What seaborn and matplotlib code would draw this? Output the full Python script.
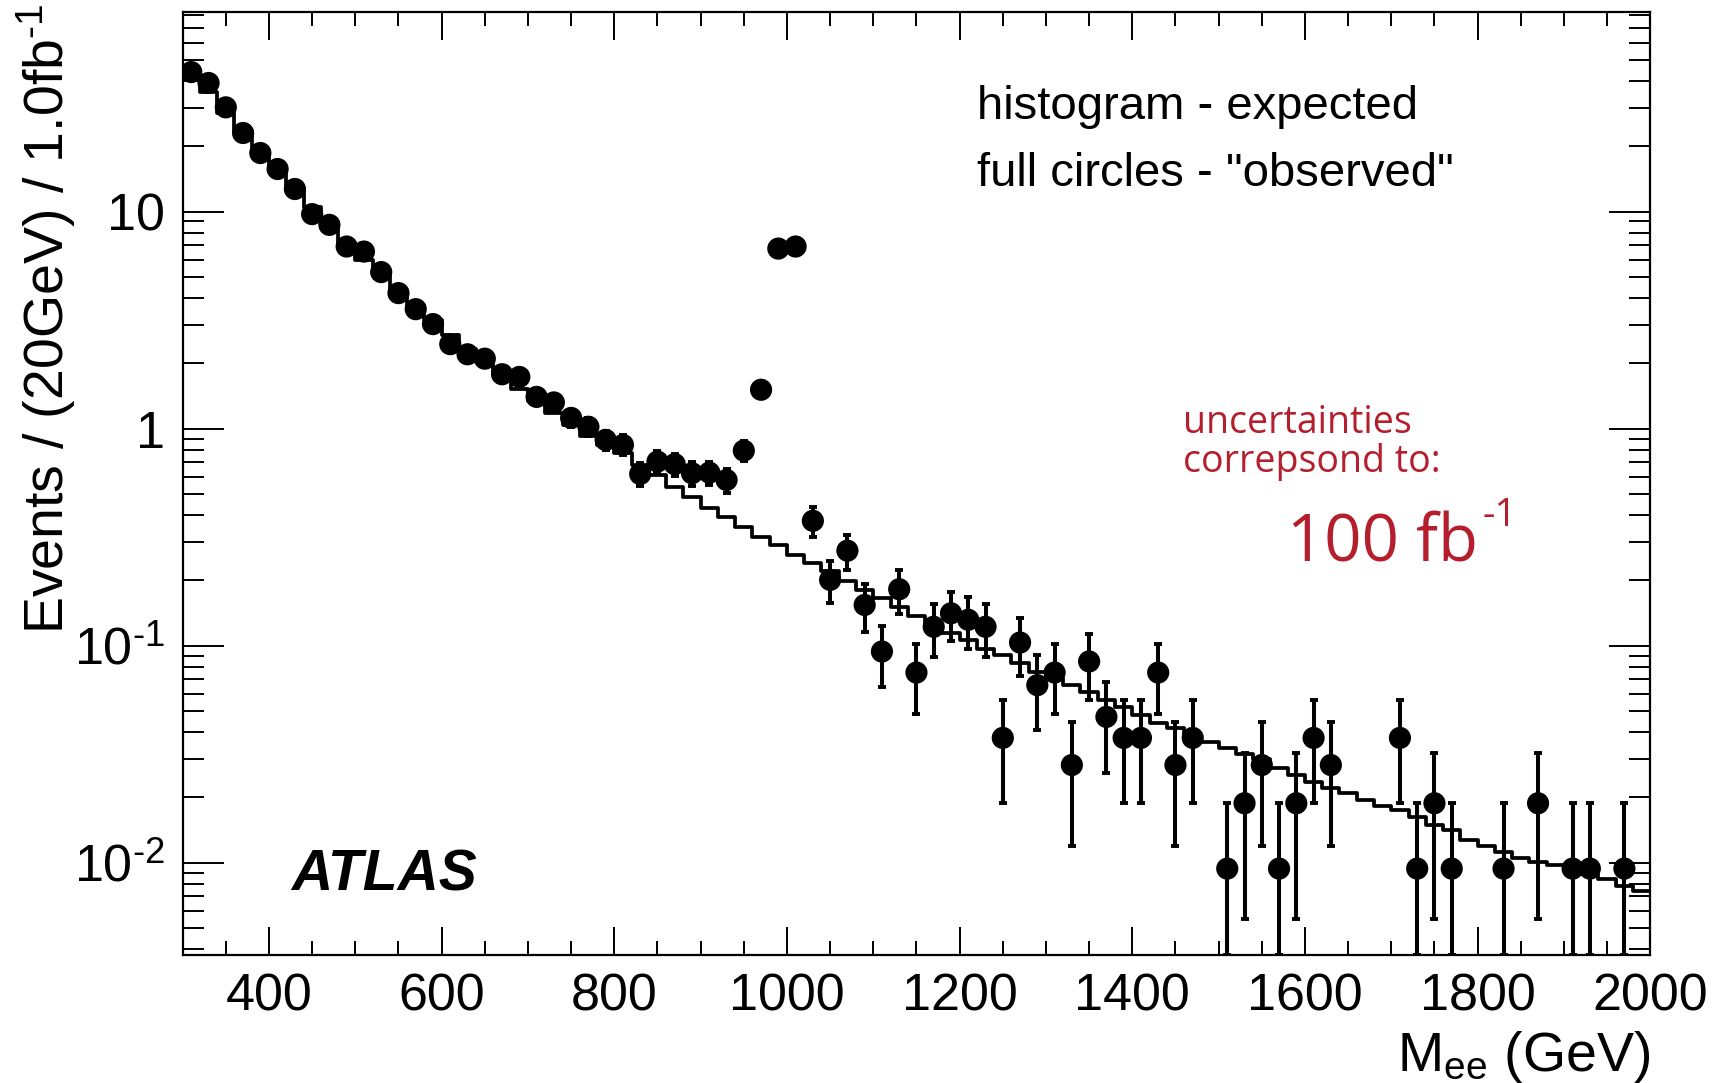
import numpy as np
import pandas as pd
import matplotlib
matplotlib.use("Agg")
import matplotlib.pyplot as plt
import seaborn as sns
from matplotlib.ticker import FixedLocator, MultipleLocator, LogLocator, NullFormatter, FixedFormatter

# ---------------- data ----------------
# 20 GeV bins from 300 to 2000 GeV
bin_edges = [float(e) for e in range(300, 2001, 20)]
bin_centers = [e + 10 for e in bin_edges[:-1]]

# expected Drell-Yan spectrum, events / 20 GeV / 1 fb^-1
expected = [
    42.0, 35.5, 28.5, 23.5, 19.2, 15.6, 12.8, 10.5, 8.7, 7.1,
    6.0, 5.1, 4.35, 3.70, 3.15, 2.70, 2.33, 2.02, 1.76, 1.53,
    1.34, 1.18, 1.04, 0.92, 0.84, 0.77, 0.68, 0.61, 0.540, 0.486,
    0.433, 0.391, 0.351, 0.318, 0.290, 0.263, 0.241, 0.221, 0.199, 0.181,
    0.165, 0.151, 0.137, 0.126, 0.114, 0.106, 0.097, 0.0906, 0.0830, 0.0759,
    0.0710, 0.0659, 0.0610, 0.0562, 0.0524, 0.0480, 0.0442, 0.0416, 0.0385, 0.0359,
    0.0337, 0.0317, 0.0300, 0.0272, 0.0254, 0.0236, 0.0220, 0.0209, 0.0194, 0.0183,
    0.0175, 0.0163, 0.0149, 0.0142, 0.0127, 0.0119, 0.0112, 0.0105, 0.0101, 0.0098,
    0.0093, 0.0089, 0.0084, 0.0078, 0.0074,
]

# pseudo-data ("observed"), bins with zero events are not drawn
obs_mass = [
    310, 330, 350, 370, 390, 410, 430, 450, 470, 490,
    510, 530, 550, 570, 590, 610, 630, 650, 670, 690,
    710, 730, 750, 770, 790, 810, 830, 850, 870, 890,
    910, 930, 950, 970, 990, 1010, 1030, 1050, 1070, 1090,
    1110, 1130, 1150, 1170, 1190, 1210, 1230, 1250, 1270, 1290,
    1310, 1330, 1350, 1370, 1390, 1410, 1430, 1450, 1470, 1510,
    1530, 1550, 1570, 1590, 1610, 1630, 1710, 1730, 1750, 1770,
    1830, 1870, 1910, 1930, 1970,
]
obs_value = [
    43.9, 39.1, 30.2, 23.0, 18.6, 15.7, 12.7, 9.73, 8.68, 6.90,
    6.54, 5.26, 4.21, 3.55, 3.03, 2.45, 2.20, 2.10, 1.78, 1.73,
    1.40, 1.32, 1.12, 1.02, 0.887, 0.841, 0.618, 0.705, 0.686, 0.623,
    0.627, 0.580, 0.792, 1.51, 6.75, 6.90, 0.376, 0.201, 0.274, 0.154,
    0.0940, 0.182, 0.0752, 0.1222, 0.141, 0.1316, 0.1222, 0.0376, 0.1034, 0.0658,
    0.0752, 0.0282, 0.0846, 0.0470, 0.0376, 0.0376, 0.0752, 0.0282, 0.0376, 0.0094,
    0.0188, 0.0282, 0.0094, 0.0188, 0.0376, 0.0282, 0.0376, 0.0094, 0.0188, 0.0094,
    0.0094, 0.0188, 0.0094, 0.0094, 0.0094,
]
# weight of a single event (100 fb^-1 sample scaled to 1 fb^-1)
event_weight = 0.0094

x_ticks = [400, 600, 800, 1000, 1200, 1400, 1600, 1800, 2000]
y_ticks = [0.01, 0.1, 1, 10]
y_tick_labels = [r"10$^{\text{-2}}$", r"10$^{\text{-1}}$", "1", "10"]

X_MIN, X_MAX = 300, 2000
Y_MIN, Y_MAX = 0.00376, 83.0

# ---------------- style ----------------
sns.set_theme(style="ticks")
plt.rcParams["font.family"] = ["Liberation Sans", "DejaVu Sans"]
plt.rcParams["mathtext.fontset"] = "custom"
plt.rcParams["mathtext.rm"] = "Liberation Sans"
plt.rcParams["mathtext.it"] = "Liberation Sans:italic"
plt.rcParams["mathtext.bf"] = "Liberation Sans:bold"
plt.rcParams["mathtext.default"] = "regular"
for key in ["axes.edgecolor", "xtick.color", "ytick.color", "text.color",
            "axes.labelcolor", "xtick.labelcolor", "ytick.labelcolor"]:
    plt.rcParams[key] = "black"

fig = plt.figure(figsize=(17.23, 10.83), dpi=100)
ax = fig.add_axes([0.1060, 0.1182, 0.9578 - 0.1060, 0.9889 - 0.1182])
fig.patch.set_facecolor("white")
ax.set_facecolor("white")

# expected spectrum as a step histogram
hist_df = pd.DataFrame({"mass": bin_centers, "expected": expected})
sns.histplot(data=hist_df, x="mass", weights="expected", bins=bin_edges,
             element="step", fill=False, color="black", linewidth=2.7, ax=ax)

# observed points with Poisson uncertainties
obs = pd.DataFrame({"mass": obs_mass, "value": obs_value})
obs["err"] = np.sqrt(obs["value"] * event_weight)
lower = np.minimum(obs["err"], obs["value"] - Y_MIN * 1.0001)
upper = obs["err"]
ax.errorbar(obs["mass"], obs["value"], yerr=[lower, upper], fmt="none",
            ecolor="black", elinewidth=2.9, capsize=2.9, capthick=2.8, zorder=3)
sns.scatterplot(data=obs, x="mass", y="value", color="black", s=255,
                edgecolor="none", linewidth=0, zorder=4, ax=ax, legend=False)

ax.set_yscale("log")
ax.set_xlim(X_MIN, X_MAX)
ax.set_ylim(Y_MIN, Y_MAX)

# axes, ticks
for sp in ax.spines.values():
    sp.set_visible(True)
    sp.set_linewidth(1.6)
    sp.set_color("black")

ax.xaxis.set_major_locator(FixedLocator(x_ticks))
ax.xaxis.set_minor_locator(MultipleLocator(50))
ax.yaxis.set_major_locator(FixedLocator(y_ticks))
ax.yaxis.set_major_formatter(FixedFormatter(y_tick_labels))
ax.yaxis.set_minor_locator(LogLocator(base=10, subs=np.arange(2, 10), numticks=50))
ax.yaxis.set_minor_formatter(NullFormatter())

ax.tick_params(which="both", direction="in", top=True, right=True,
               bottom=True, left=True, color="black", width=1.4)
ax.tick_params(axis="x", which="major", length=20, labelsize=37.5, pad=12.5)
ax.tick_params(axis="x", which="minor", length=10)
ax.tick_params(axis="y", which="major", length=29.5, labelsize=37.5, pad=12.5)
ax.tick_params(axis="y", which="minor", length=15)

# axis titles, ROOT-like placement at the axis ends
ax.set_xlabel(r"M$_{\text{ee}}$ (GeV)", fontsize=40)
ax.xaxis.set_label_coords(1.0, -0.1230)
ax.xaxis.label.set_horizontalalignment("right")
ax.xaxis.label.set_verticalalignment("baseline")

ax.set_ylabel(r"Events / (20GeV) / 1.0fb$^{\text{-1}}$", fontsize=40)
ax.yaxis.set_label_coords(-0.0931, 1.009)
ax.yaxis.label.set_rotation_mode("default")
ax.yaxis.label.set_horizontalalignment("center")
ax.yaxis.label.set_verticalalignment("top")

# annotations
fig.text(0.5670, 0.8901, "histogram - expected", fontsize=34,
         ha="left", va="baseline", color="black")
fig.text(0.5670, 0.8283, 'full circles - "observed"', fontsize=34,
         ha="left", va="baseline", color="black")
fig.text(0.1689, 0.1782, "ATLAS", fontsize=41, fontweight="bold",
         fontstyle="italic", ha="left", va="baseline", color="black")

red = "#B41E2D"
fig.text(0.6866, 0.6002, "uncertainties", fontsize=27, family="Open Sans",
         ha="left", va="baseline", color=red)
fig.text(0.6866, 0.5642, "correpsond to:", fontsize=27, family="Open Sans",
         ha="left", va="baseline", color=red)
lumi = fig.text(0.7470, 0.4811, "100 fb", fontsize=47, family="Open Sans",
                ha="left", va="baseline", color=red)
ax.annotate("-1", xy=(1.0, 0.78), xycoords=lumi, xytext=(3, 0),
            textcoords="offset points", fontsize=28, family="Open Sans",
            ha="left", va="baseline", color=red)

fig.savefig("out.png", dpi=100, facecolor="white")
